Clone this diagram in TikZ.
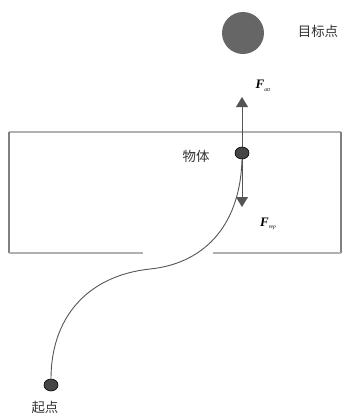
\documentclass[tikz,border=0pt]{standalone}
\usepackage{fontspec}
\setmainfont{Liberation Serif}
\newfontfamily\cjk{Noto Sans CJK SC}
\usetikzlibrary{arrows.meta,shapes.geometric}
\definecolor{dotfill}{HTML}{454545}
\definecolor{goalfill}{HTML}{666666}
\definecolor{wallside}{HTML}{808080}
\definecolor{wallh}{HTML}{B0B0B0}
\definecolor{forcecol}{HTML}{555555}
\definecolor{txt}{HTML}{333333}
\tikzset{
  dot/.style={ellipse,draw=black,line width=0.6bp,fill=dotfill,minimum width=14bp,minimum height=12bp,inner sep=0pt},
  goaldot/.style={circle,fill=goalfill,minimum size=42bp,inner sep=0pt},
  cjklabel/.style={font=\cjk\fontsize{13.5}{13.5}\selectfont,text=txt,inner sep=0pt},
  flabel/.style={font=\fontsize{13}{13}\selectfont,text=black,inner sep=0pt},
  forcearrow/.style={draw=forcecol,line width=0.9bp,-{Triangle[width=12bp,length=10bp]},color=forcecol},
  wallv/.style={draw=wallside,line width=1.5bp},
  wallhz/.style={draw=wallh,line width=1.5bp},
  pathline/.style={draw=forcecol,line width=0.9bp}
}
\begin{document}
\begin{tikzpicture}[x=1bp,y=-1bp]
\useasboundingbox (0,0) rectangle (344,416);
% walls
\coordinate (tl) at (9,132);
\coordinate (tr) at (341,132);
\coordinate (bl) at (9,253);
\coordinate (br) at (341,253);
\coordinate (gapl) at (143,253);
\coordinate (gapr) at (213,253);
\draw[wallhz] (tl) -- (tr);
\draw[wallv] (tl) -- (bl);
\draw[wallv] (tr) -- (br);
\draw[wallhz] (bl) -- (gapl);
\draw[wallhz] (gapr) -- (br);
% goal
\node[goaldot] (goal) at (243,33) {};
\node[cjklabel] (goallabel) at (318,31) {目标点};
% forces
\coordinate (objc) at (242,153);
\coordinate (atttip) at (242,97);
\coordinate (reptip) at (242,207);
\draw[forcearrow] (objc) -- (atttip);
\draw[forcearrow] (objc) -- (reptip);
\node[flabel] (att) at (263,86) {\textbf{\textit{F}}\raisebox{-2.5bp}{\fontsize{5.5}{6}\selectfont\textit{att}}};
\node[flabel] (rep) at (268,224) {\textbf{\textit{F}}\raisebox{-2.5bp}{\fontsize{5.5}{6}\selectfont\textit{rep}}};
% path
\node[dot] (start) at (51,385) {};
\coordinate (mid) at (150,269);
\node[dot] (obj) at (objc) {};
\draw[pathline] (obj.south) .. controls (240,230) and (200,264) .. (mid)
  .. controls (85,276) and (51,320) .. (start.north);
\node[cjklabel] (objlabel) at (196,156) {物体};
\node[cjklabel] (startlabel) at (45,407) {起点};
\end{tikzpicture}
\end{document}
